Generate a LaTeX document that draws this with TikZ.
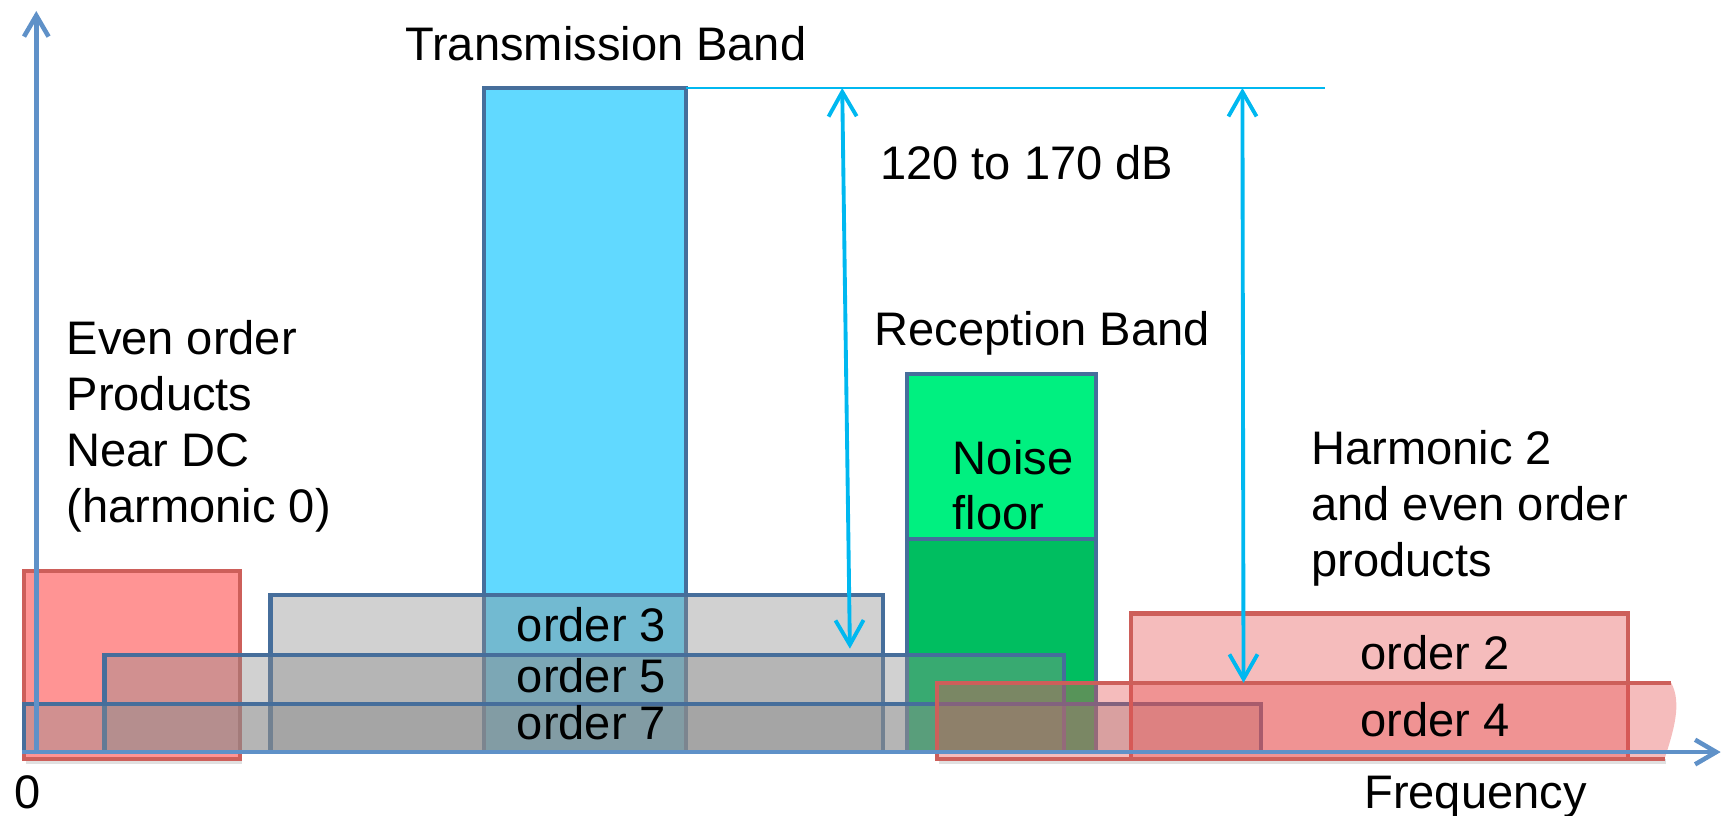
\documentclass[tikz,border=0pt]{standalone}
\usepackage{fontspec}
\setmainfont{Liberation Sans}
\usetikzlibrary{arrows.meta}

\definecolor{edgeblue}{RGB}{70,110,155}
\definecolor{axisblue}{RGB}{95,145,200}
\definecolor{txcyan}{RGB}{97,217,255}
\definecolor{dimcyan}{RGB}{0,184,240}
\definecolor{noisegreen}{RGB}{0,240,128}
\definecolor{rxgreen}{RGB}{0,190,96}
\definecolor{harmred}{RGB}{205,95,90}
\definecolor{harmfill}{RGB}{255,148,148}
\definecolor{evenfill}{RGB}{230,80,80}
\definecolor{oddfill}{RGB}{140,140,140}

\tikzset{
  bandbox/.style={draw=edgeblue, line width=1.2pt},
  oddbox/.style={draw=edgeblue, line width=1.2pt, fill=oddfill, fill opacity=0.4},
  evenbox/.style={draw=harmred, line width=1.2pt, fill=evenfill, fill opacity=0.38},
  axisline/.style={draw=axisblue, line width=1.3pt, -{Straight Barb[length=6pt,width=7pt]}},
  dimline/.style={draw=dimcyan, line width=1.1pt, {Straight Barb[length=7pt,width=8pt]}-{Straight Barb[length=7pt,width=8pt]}},
  lbl/.style={inner sep=0pt, align=left}
}

\begin{document}
\begin{tikzpicture}[x=0.010995cm, y=-0.010995cm, font=\fontsize{13.4}{15.9}\selectfont]
  \useasboundingbox (0, 0) rectangle (1568, 742);

  % harmonic 0 near DC
  \fill[black!12] (24, 690) rectangle (220, 695);
  \draw[draw=harmred, line width=1.2pt, fill=harmfill] (22, 519) rectangle (218, 690);

  % transmission and reception bands
  \draw[bandbox, fill=txcyan] (440, 80) rectangle (624, 684);
  \draw[bandbox, fill=noisegreen] (825, 340) rectangle (997, 490);
  \draw[bandbox, fill=rxgreen] (825, 490) rectangle (997, 684);

  % odd order products
  \draw[oddbox] (246, 541) rectangle (803, 684);
  \draw[oddbox] (95, 596) rectangle (968, 684);
  \draw[oddbox] (22, 640) rectangle (1147, 684);

  % even order products
  \fill[black!12] (854, 690) rectangle (1515, 695);
  \draw[evenbox] (1029, 558) rectangle (1481, 690);
  \fill[evenfill, fill opacity=0.38] (852, 621) -- (1520, 621)
    .. controls (1530, 640) and (1522, 665) .. (1514, 690) -- (852, 690) -- cycle;
  \draw[draw=harmred, line width=1.2pt] (1520, 621) -- (852, 621) -- (852, 690) -- (1514, 690);

  % axes
  \coordinate (orig) at (33, 686);
  \coordinate (ytip) at (33, 10);
  \coordinate (xstart) at (20, 684);
  \coordinate (xtip) at (1565, 684);
  \path [axisline] (orig) -- (ytip);
  \path [axisline] (xstart) -- (xtip);

  % dynamic range markers
  \coordinate (txtop) at (624, 80);
  \coordinate (refend) at (1205, 80);
  \coordinate (dimtopa) at (766, 80);
  \coordinate (dimbota) at (773, 590);
  \coordinate (dimtopb) at (1130, 80);
  \coordinate (dimbotb) at (1131, 621);
  \draw[dimcyan, line width=0.5pt] (txtop) -- (refend);
  \path [dimline] (dimtopa) -- (dimbota);
  \path [dimline] (dimtopb) -- (dimbotb);

  % labels
  \draw (551, 55) node[lbl, anchor=base] (txlbl) {Transmission Band};
  \draw (800, 163) node[lbl, anchor=base west] (rangelbl) {120 to 170 dB};
  \draw (795, 314) node[lbl, anchor=base west] (rxlbl) {Reception Band};
  \draw (866, 482) node[lbl, anchor=base west] (noiselbl) {Noise\\floor};
  \draw (60, 475) node[lbl, anchor=base west] (evenlbl) {Even order\\Products\\Near DC\\(harmonic 0)};
  \draw (1192, 524) node[lbl, anchor=base west] (harmlbl) {Harmonic 2\\and even order\\products};
  \draw (538, 583) node[lbl, anchor=base] (ord3) {order 3};
  \draw (538, 630) node[lbl, anchor=base] (ord5) {order 5};
  \draw (538, 673) node[lbl, anchor=base] (ord7) {order 7};
  \draw (1305, 609) node[lbl, anchor=base] (ord2) {order 2};
  \draw (1305, 670) node[lbl, anchor=base] (ord4) {order 4};
  \draw (25, 735) node[lbl, anchor=base] (zerolbl) {0};
  \draw (1342, 735) node[lbl, anchor=base] (freqlbl) {Frequency};
\end{tikzpicture}
\end{document}
